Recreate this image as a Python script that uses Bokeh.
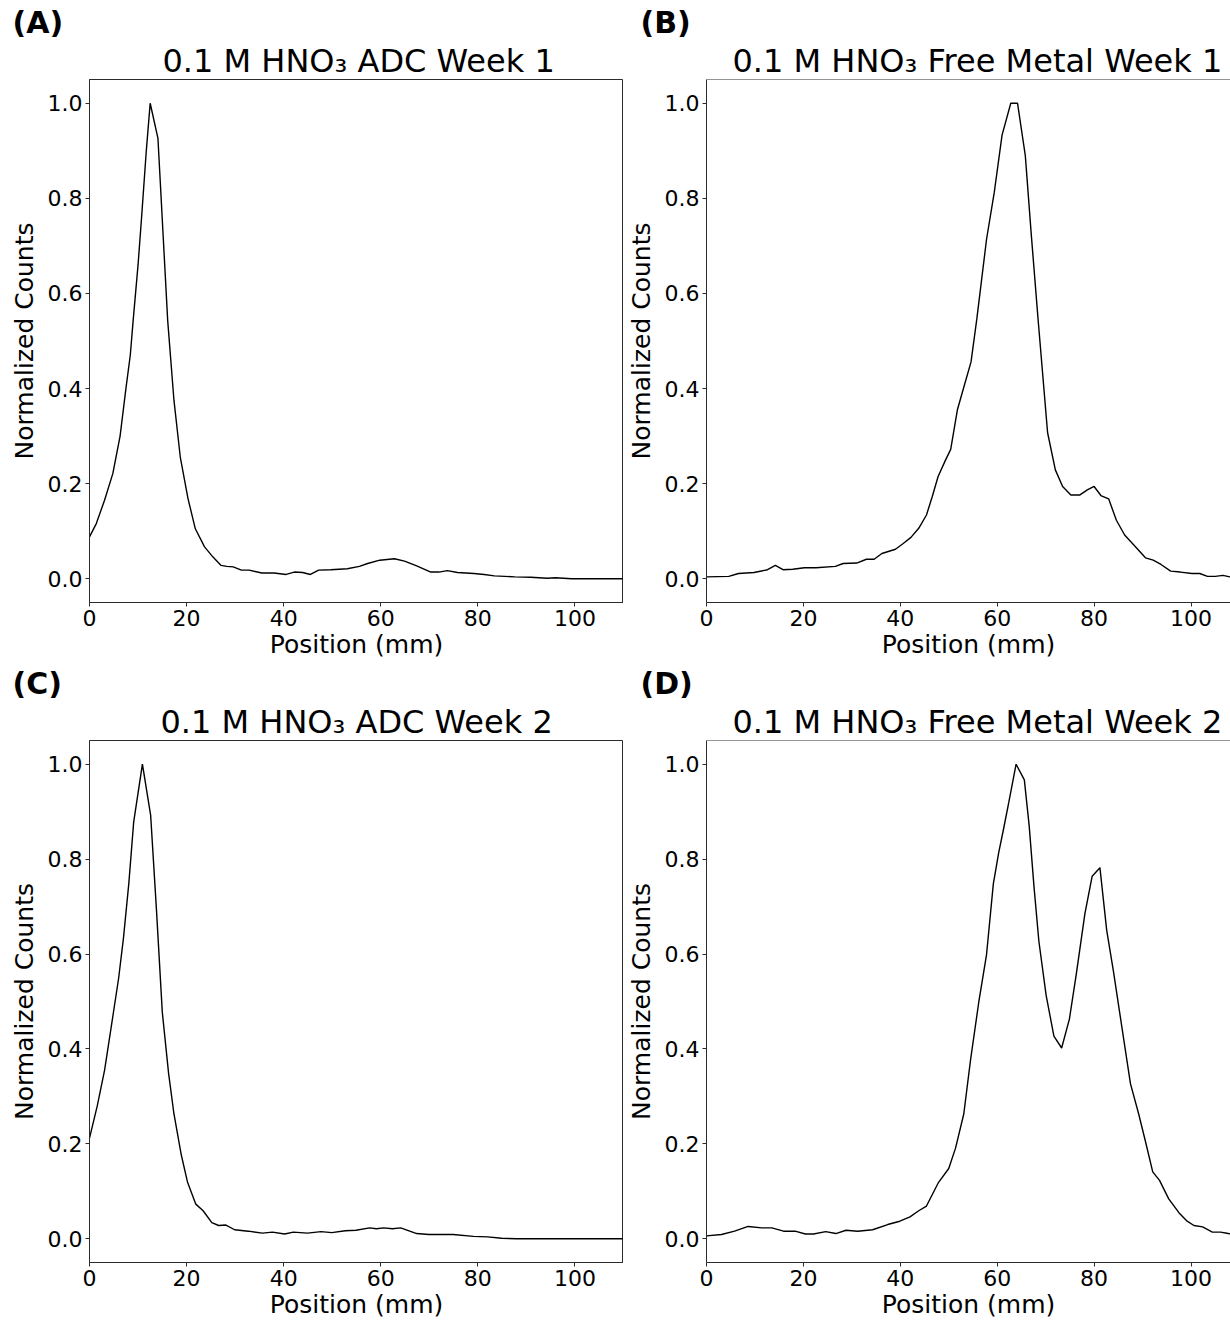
from bokeh.plotting import figure
from bokeh.layouts import column, row
from bokeh.models import Title, Span, FixedTicker, PrintfTickFormatter, Range1d
from bokeh.embed import file_html
from bokeh.resources import INLINE

FONT = "DejaVu Sans"

# ---------------- data ----------------
titles = ["0.1 M HNO\u2083 ADC Week 1", "0.1 M HNO\u2083 Free Metal Week 1",
          "0.1 M HNO\u2083 ADC Week 2", "0.1 M HNO\u2083 Free Metal Week 2"]
letters = ["(A)", "(B)", "(C)", "(D)"]
x_label = "Position (mm)"
y_label = "Normalized Counts"
x_ticks = [0, 20, 40, 60, 80, 100]
y_ticks = [0.0, 0.2, 0.4, 0.6, 0.8, 1.0]

a_pos = [0, 1.4, 3.1, 4.8, 6.3, 7.5, 8.4, 9.0, 10.0, 10.7, 11.7, 12.5, 14.1, 16.1, 17.4,
         18.7, 20.3, 21.8, 23.7, 25.4, 27.1, 28.3, 29.6, 31.3, 32.9, 35.5, 38.0, 40.5,
         42.2, 43.9, 45.5, 47.2, 49.7, 53.1, 55.6, 57.3, 59.8, 62.8, 64.9, 67.4, 70.3,
         72.0, 73.7, 75.8, 79.2, 81.3, 83.4, 87.6, 90.9, 94.3, 96.0, 99.3, 110]
a_counts = [0.088, 0.116, 0.165, 0.221, 0.30, 0.40, 0.47, 0.544, 0.66, 0.756, 0.90, 1.0,
            0.926, 0.544, 0.375, 0.256, 0.168, 0.105, 0.067, 0.046, 0.028, 0.026, 0.025,
            0.018, 0.018, 0.012, 0.012, 0.009, 0.014, 0.013, 0.009, 0.018, 0.019, 0.021,
            0.026, 0.032, 0.039, 0.042, 0.037, 0.027, 0.014, 0.014, 0.017, 0.013, 0.011,
            0.009, 0.006, 0.004, 0.003, 0.001, 0.002, 0.0, 0.0]

b_pos = [0, 4.6, 6.6, 9.8, 12.6, 14.2, 15.8, 17.8, 20.2, 22.6, 26.6, 28.2, 31.0, 33.0,
         34.6, 36.2, 39.0, 40.6, 42.2, 43.8, 45.4, 46.6, 47.8, 49.4, 50.4, 51.8, 53.0,
         54.6, 55.8, 57.8, 59.4, 61.0, 62.8, 64.2, 65.8, 67.0, 68.4, 70.4, 72.0, 73.5,
         75.2, 77.0, 78.6, 80.0, 81.4, 83.0, 84.6, 86.3, 88.2, 90.6, 92.2, 93.8, 95.8,
         97.8, 100.2, 101.8, 103.4, 105.0, 106.6, 108.0, 110]
b_counts = [0.004, 0.005, 0.011, 0.013, 0.019, 0.028, 0.019, 0.020, 0.023, 0.023, 0.026,
            0.032, 0.033, 0.041, 0.041, 0.053, 0.062, 0.074, 0.087, 0.106, 0.134, 0.173,
            0.215, 0.251, 0.272, 0.356, 0.399, 0.456, 0.547, 0.714, 0.813, 0.933, 1.0,
            1.0, 0.89, 0.728, 0.55, 0.307, 0.229, 0.194, 0.176, 0.176, 0.187, 0.194,
            0.175, 0.168, 0.123, 0.092, 0.071, 0.044, 0.039, 0.030, 0.016, 0.014, 0.011,
            0.011, 0.005, 0.005, 0.007, 0.004, 0.004]

c_pos = [0, 1.6, 3.1, 4.5, 6.0, 7.0, 8.1, 9.1, 10.9, 12.6, 13.8, 15.0, 16.3, 17.4, 18.9,
         20.2, 21.9, 23.4, 25.2, 26.6, 28.1, 29.9, 32.7, 35.6, 37.7, 40.2, 42.0, 44.9,
         47.7, 49.9, 52.7, 54.9, 57.7, 59.1, 60.6, 62.4, 64.1, 67.4, 69.9, 74.9, 79.1,
         82.0, 84.9, 88.0, 110]
c_counts = [0.212, 0.28, 0.355, 0.448, 0.549, 0.634, 0.749, 0.878, 1.0, 0.892, 0.692,
            0.477, 0.348, 0.263, 0.177, 0.119, 0.073, 0.059, 0.034, 0.028, 0.029, 0.019,
            0.016, 0.012, 0.014, 0.010, 0.014, 0.012, 0.015, 0.013, 0.017, 0.018, 0.023,
            0.021, 0.023, 0.021, 0.023, 0.011, 0.009, 0.009, 0.005, 0.004, 0.001, 0.0, 0.0]

d_pos = [0, 3.1, 5.8, 8.6, 11.4, 13.5, 15.9, 18.3, 20.4, 22.1, 24.6, 26.7, 28.8, 31.2,
         34.3, 37.4, 39.9, 42.0, 43.8, 45.4, 47.9, 50.0, 51.4, 53.1, 54.5, 56.2, 57.8,
         59.2, 60.3, 61.3, 62.4, 63.9, 65.6, 66.6, 67.6, 68.6, 70.1, 71.7, 73.3, 74.9,
         76.3, 78.1, 79.6, 81.2, 82.6, 84.0, 85.7, 87.5, 89.2, 90.6, 92.1, 93.5, 95.4,
         97.5, 99.2, 100.6, 102.4, 104.4, 106.1, 107.7, 110]
d_counts = [0.006, 0.009, 0.016, 0.026, 0.023, 0.023, 0.016, 0.016, 0.010, 0.010, 0.015,
            0.011, 0.018, 0.016, 0.019, 0.030, 0.037, 0.046, 0.059, 0.069, 0.119, 0.148,
            0.191, 0.263, 0.377, 0.499, 0.599, 0.748, 0.813, 0.863, 0.920, 1.0, 0.967,
            0.870, 0.741, 0.627, 0.513, 0.427, 0.402, 0.463, 0.556, 0.685, 0.764, 0.782,
            0.650, 0.563, 0.448, 0.327, 0.263, 0.205, 0.141, 0.123, 0.084, 0.055, 0.037,
            0.028, 0.025, 0.014, 0.014, 0.011, 0.008]

FRAME = "#2b2b2b"
Y_START, Y_END = -0.05, 1.05


def make_panel(pos, counts, title, letter, width, height, b_left, b_right, b_top,
               b_bottom, x_end, title_offset, letter_offset, cropped):
    p = figure(width=width, height=height, output_backend="svg", toolbar_location=None,
               x_range=Range1d(0, x_end), y_range=Range1d(Y_START, Y_END),
               min_border_left=b_left, min_border_right=b_right,
               min_border_top=b_top, min_border_bottom=b_bottom, title=None,
               background_fill_color="white", border_fill_color="white")
    p.line(pos, counts, line_color="black", line_width=1.4)

    p.add_layout(Title(text=title, align="left", offset=title_offset, text_font=FONT,
                       text_font_size="32px", text_font_style="normal",
                       text_color="black", standoff=0), "above")
    p.add_layout(Title(text=letter, align="left", offset=letter_offset, text_font=FONT,
                       text_font_size="30px", text_font_style="bold",
                       text_color="black", standoff=0), "above")

    p.xgrid.visible = False
    p.ygrid.visible = False
    p.xaxis.ticker = FixedTicker(ticks=x_ticks)
    p.yaxis.ticker = FixedTicker(ticks=y_ticks)
    p.yaxis.formatter = PrintfTickFormatter(format="%.1f")
    p.xaxis.axis_label = x_label
    p.yaxis.axis_label = y_label
    for ax in (p.xaxis, p.yaxis):
        ax.major_label_text_font = FONT
        ax.major_label_text_font_size = "22px"
        ax.major_label_text_color = "black"
        ax.axis_label_text_font = FONT
        ax.axis_label_text_font_size = "25px"
        ax.axis_label_text_font_style = "normal"
        ax.axis_label_text_color = "black"
        ax.major_tick_in = 0
        ax.major_tick_out = 4
        ax.major_tick_line_color = FRAME
        ax.minor_tick_line_color = None
        ax.axis_line_color = FRAME
    p.yaxis.major_label_standoff = 3
    p.yaxis.axis_label_standoff = 6
    p.xaxis.major_label_standoff = 3
    p.xaxis.axis_label_standoff = 1

    if cropped:
        p.outline_line_color = None
        p.add_layout(Span(location=Y_END, dimension="width", line_color=FRAME, line_width=1))
    else:
        p.outline_line_color = FRAME
        p.outline_line_alpha = 1.0
    return p


pa = make_panel(a_pos, a_counts, titles[0], letters[0], 623, 661, 89, 0, 79, 59, 110, 73, -77, False)
pb = make_panel(b_pos, b_counts, titles[1], letters[1], 607, 661, 82, 0, 79, 59, 108.15, 26, -66, True)
pc = make_panel(c_pos, c_counts, titles[2], letters[2], 623, 660, 89, 0, 79, 59, 110, 71, -77, False)
pd = make_panel(d_pos, d_counts, titles[3], letters[3], 607, 660, 82, 0, 79, 59, 108.15, 26, -66, True)

layout = column(row(pa, pb), row(pc, pd))
open("out.html", "w").write(file_html(layout, INLINE))
